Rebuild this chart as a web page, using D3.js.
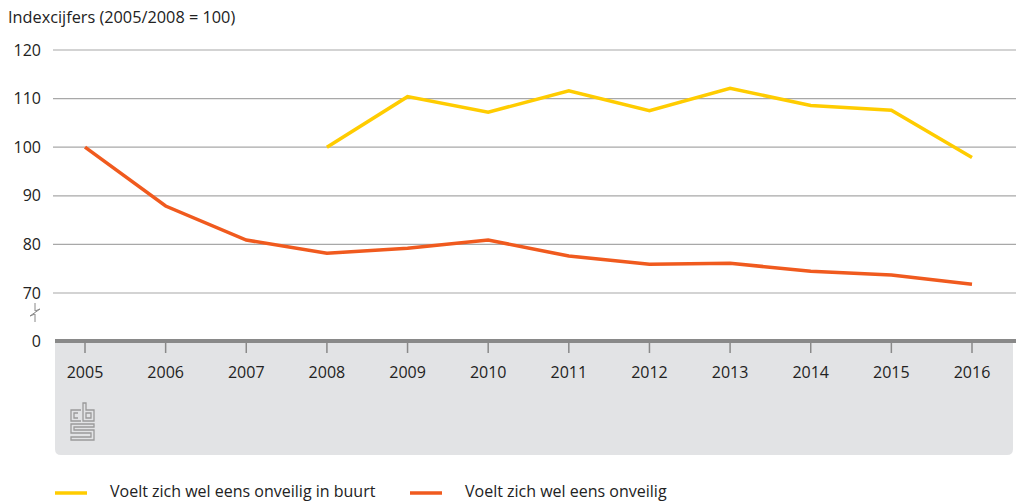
<!DOCTYPE html>
<html><head><meta charset="utf-8">
<script src="https://cdn.jsdelivr.net/npm/d3@7"></script>
<style>body{margin:0;background:#fff;}svg{display:block;font-family:"Open Sans",sans-serif;}</style>
</head><body>
<svg id="c" width="1016" height="502"></svg>
<script>
const years = [2005,2006,2007,2008,2009,2010,2011,2012,2013,2014,2015,2016];
const buurt = [null,null,null,100,110.4,107.2,111.6,107.5,112.1,108.6,107.6,97.9];
const onveilig = [100,87.9,80.9,78.2,79.2,80.9,77.6,75.9,76.1,74.5,73.7,71.8];
const yTicks = [70,80,90,100,110,120];
const seriesNames = ["Voelt zich wel eens onveilig in buurt","Voelt zich wel eens onveilig"];
const colors = ["#ffcc00","#f05a1e"];

const svg = d3.select("#c");
const x = d3.scalePoint().domain(years).range([85,972]);
const y = d3.scaleLinear().domain([70,120]).range([293,50]);
const zeroY = 341;
const fs = 16;

// title
svg.append("text").attr("x",8).attr("y",23).attr("font-size",16.3).attr("fill","#222").text("Indexcijfers (2005/2008 = 100)");

// gridlines
svg.append("g").selectAll("line").data(yTicks).join("line")
  .attr("x1",53).attr("x2",1016).attr("y1",d=>y(d)).attr("y2",d=>y(d))
  .attr("stroke","#a8a8a8").attr("stroke-width",1.2);
svg.append("g").selectAll("text").data(yTicks).join("text")
  .attr("x",41).attr("y",d=>y(d)+5.5).attr("text-anchor","end").attr("font-size",fs).attr("fill","#222").text(d=>d);
svg.append("text").attr("x",41).attr("y",zeroY+5.5).attr("text-anchor","end").attr("font-size",fs).attr("fill","#222").text("0");

// axis break
svg.append("path").attr("d","M35,303 L35,311 L40,309 L30,316 L35,314 L35,322")
  .attr("fill","none").attr("stroke","#888").attr("stroke-width",1);

// panel
svg.append("path").attr("d",`M55,${zeroY} H1013 V449 Q1013,455 1007,455 H61 Q55,455 55,449 Z`).attr("fill","#e2e3e5");
svg.append("rect").attr("x",55).attr("y",zeroY-2).attr("width",961).attr("height",4).attr("fill","#898989");

// x ticks
svg.append("g").selectAll("line").data(years).join("line")
  .attr("x1",d=>x(d)).attr("x2",d=>x(d)).attr("y1",zeroY).attr("y2",zeroY+12)
  .attr("stroke","#898989").attr("stroke-width",1.5);
svg.append("g").selectAll("text").data(years).join("text")
  .attr("x",d=>x(d)).attr("y",378).attr("text-anchor","middle").attr("font-size",fs).attr("fill","#222").text(d=>d);

// logo
const lg = svg.append("g").attr("fill","none").attr("stroke","#9a9a9a").attr("stroke-width",1.3);
lg.append("path").attr("d","M81,410 H71 V421 H81 M78,413 H74 V418 H78");
lg.append("path").attr("d","M83,403 V421 H94 V410 H86 V403 Z M86,413 H91 V418 H86 Z");
lg.append("path").attr("d","M71,424 H94 V427 H74 V430 H94 V440 H71 V437 H91 V433 H71 Z");

// lines
const line = d3.line().defined(d=>d[1]!=null).x(d=>x(d[0])).y(d=>y(d[1]));
[buurt,onveilig].forEach((s,i)=>{
  svg.append("path").datum(years.map((yr,j)=>[yr,s[j]]))
    .attr("d",line).attr("fill","none").attr("stroke",colors[i]).attr("stroke-width",3.5).attr("stroke-linejoin","miter");
});

// legend
const lx = [55,410];
seriesNames.forEach((n,i)=>{
  svg.append("line").attr("x1",lx[i]).attr("x2",lx[i]+32).attr("y1",493).attr("y2",493).attr("stroke",colors[i]).attr("stroke-width",3.5);
  svg.append("text").attr("x",lx[i]+55).attr("y",496.5).attr("font-size",fs).attr("fill","#222").text(n);
});
</script>
</body></html>
